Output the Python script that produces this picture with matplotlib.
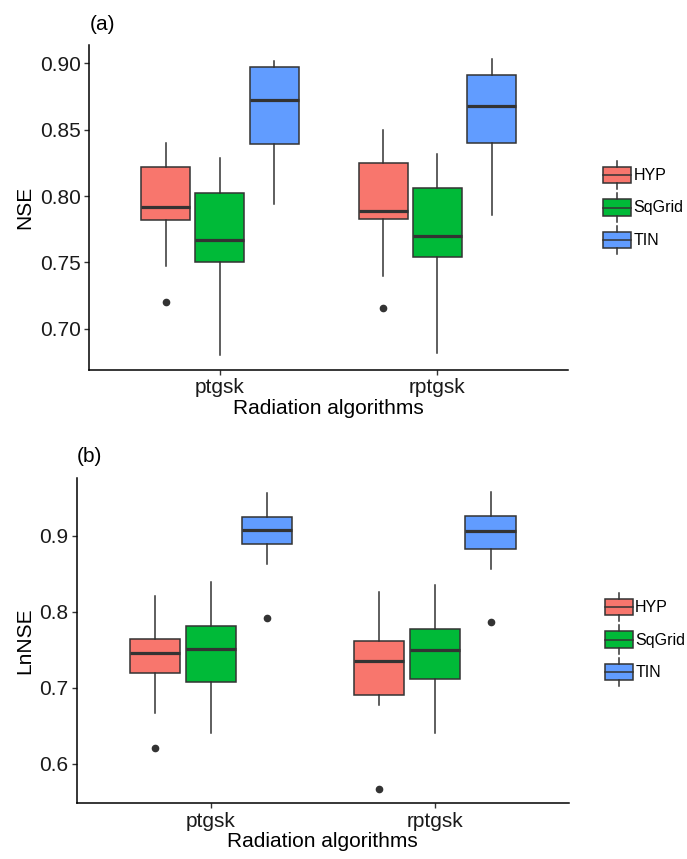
import matplotlib
matplotlib.use("Agg")
import matplotlib.pyplot as plt
from matplotlib.patches import Patch, Rectangle
from matplotlib.lines import Line2D
from matplotlib.legend_handler import HandlerBase

plt.rcParams['font.family'] = ['Liberation Sans', 'DejaVu Sans']

# ---------------- data ----------------
categories = ["ptgsk", "rptgsk"]
groups = ["HYP", "SqGrid", "TIN"]
colors = ["#F8766D", "#00BA38", "#619CFF"]

# Panel (a) NSE  -> [ptgsk, rptgsk] per group
nse_whislo = {"HYP": [0.747, 0.740], "SqGrid": [0.680, 0.682], "TIN": [0.794, 0.786]}
nse_q1     = {"HYP": [0.782, 0.783], "SqGrid": [0.750, 0.754], "TIN": [0.839, 0.840]}
nse_med    = {"HYP": [0.792, 0.789], "SqGrid": [0.767, 0.770], "TIN": [0.872, 0.868]}
nse_q3     = {"HYP": [0.822, 0.825], "SqGrid": [0.802, 0.806], "TIN": [0.897, 0.891]}
nse_whishi = {"HYP": [0.840, 0.850], "SqGrid": [0.829, 0.832], "TIN": [0.902, 0.903]}
nse_fliers = {"HYP": [[0.720], [0.7155]], "SqGrid": [[], []], "TIN": [[], []]}

# Panel (b) LnNSE
ln_whislo = {"HYP": [0.667, 0.677], "SqGrid": [0.640, 0.641], "TIN": [0.863, 0.857]}
ln_q1     = {"HYP": [0.720, 0.691], "SqGrid": [0.708, 0.712], "TIN": [0.889, 0.883]}
ln_med    = {"HYP": [0.746, 0.736], "SqGrid": [0.751, 0.750], "TIN": [0.908, 0.907]}
ln_q3     = {"HYP": [0.764, 0.762], "SqGrid": [0.781, 0.777], "TIN": [0.925, 0.926]}
ln_whishi = {"HYP": [0.821, 0.826], "SqGrid": [0.840, 0.836], "TIN": [0.956, 0.958]}
ln_fliers = {"HYP": [[0.621], [0.567]], "SqGrid": [[], []], "TIN": [[0.792], [0.787]]}

nse_ticks = [0.70, 0.75, 0.80, 0.85, 0.90]
ln_ticks = [0.6, 0.7, 0.8, 0.9]

# ---------------- style ----------------
EDGE = "#333333"
LW = 1.1
FS = 15
KEY_BOX_HALF = 6.1     # points
KEY_WHISK_HALF = 10.4  # points

class HandlerBox(HandlerBase):
    def create_artists(self, legend, orig_handle, xdescent, ydescent,
                       width, height, fontsize, trans):
        x0, y0 = -xdescent, -ydescent
        cx = x0 + width / 2
        yc = y0 + height / 2
        b0, b1 = yc - KEY_BOX_HALF, yc + KEY_BOX_HALF
        rect = Rectangle((x0, b0), width, b1 - b0,
                         facecolor=orig_handle.get_facecolor(),
                         edgecolor=EDGE, linewidth=LW, transform=trans)
        w1 = Line2D([cx, cx], [yc - KEY_WHISK_HALF, b0], color=EDGE, lw=LW,
                    transform=trans)
        w2 = Line2D([cx, cx], [b1, yc + KEY_WHISK_HALF], color=EDGE, lw=LW,
                    transform=trans)
        med = Line2D([x0, x0 + width], [yc, yc], color=EDGE, lw=LW,
                     transform=trans)
        return [rect, w1, w2, med]


def draw_panel(ax, whislo, q1, med, q3, whishi, fliers, ticks, ylim, ylabel,
               tickfmt, tag, legend_y):
    offsets = [-0.25, 0.0, 0.25]
    for gi, g in enumerate(groups):
        stats = []
        for ci in range(len(categories)):
            stats.append(dict(whislo=whislo[g][ci], q1=q1[g][ci], med=med[g][ci],
                              q3=q3[g][ci], whishi=whishi[g][ci],
                              fliers=fliers[g][ci]))
        pos = [ci + 1 + offsets[gi] for ci in range(len(categories))]
        ax.bxp(stats, positions=pos, widths=0.225, patch_artist=True,
               showcaps=False,
               boxprops=dict(facecolor=colors[gi], edgecolor=EDGE, linewidth=LW),
               whiskerprops=dict(color=EDGE, linewidth=LW),
               medianprops=dict(color=EDGE, linewidth=2.3, solid_capstyle='butt'),
               flierprops=dict(marker='o', markerfacecolor=EDGE,
                               markeredgecolor=EDGE, markersize=4.5))
    ax.set_xlim(0.4, 2.6)
    ax.set_ylim(*ylim)
    ax.set_xticks([1, 2])
    ax.set_xticklabels(categories)
    ax.set_yticks(ticks)
    ax.set_yticklabels([tickfmt.format(t) for t in ticks])
    for s in ["top", "right"]:
        ax.spines[s].set_visible(False)
    for s in ["left", "bottom"]:
        ax.spines[s].set_linewidth(1.1)
        ax.spines[s].set_color("black")
    ax.tick_params(axis='both', length=3.5, width=1.0, color=EDGE,
                   labelsize=FS, labelcolor="#1a1a1a", pad=2.5)
    ax.set_xlabel("Radiation algorithms", fontsize=FS, labelpad=1)
    ax.set_ylabel(ylabel, fontsize=FS, labelpad=4)
    ax.text(0.0, 1.035, tag, transform=ax.transAxes, fontsize=FS,
            ha='left', va='bottom')
    handles = [Patch(facecolor=c, label=g) for g, c in zip(groups, colors)]
    ax.legend(handles=handles, handler_map={Patch: HandlerBox()},
              loc='center left', bbox_to_anchor=(1.073, legend_y), frameon=False,
              fontsize=11.5, handlelength=1.75, handleheight=2.2,
              labelspacing=0.36, handletextpad=0.15, borderaxespad=0,
              borderpad=0)


W, H = 687, 859
fig = plt.figure(figsize=(W / 100, H / 100), dpi=100)
ax1 = fig.add_axes([89.4 / W, (H - 370) / H, (568 - 89.4) / W, (370 - 45) / H])
ax2 = fig.add_axes([76.8 / W, (H - 803.3) / H, (568.9 - 76.8) / W, (803.3 - 477.7) / H])

draw_panel(ax1, nse_whislo, nse_q1, nse_med, nse_q3, nse_whishi, nse_fliers,
           nse_ticks, (0.669, 0.9138), "NSE", "{:.2f}", "(a)", 0.50)
draw_panel(ax2, ln_whislo, ln_q1, ln_med, ln_q3, ln_whishi, ln_fliers,
           ln_ticks, (0.548, 0.9767), "LnNSE", "{:.1f}", "(b)", 0.503)

fig.savefig("out.png", dpi=100, facecolor="white")
